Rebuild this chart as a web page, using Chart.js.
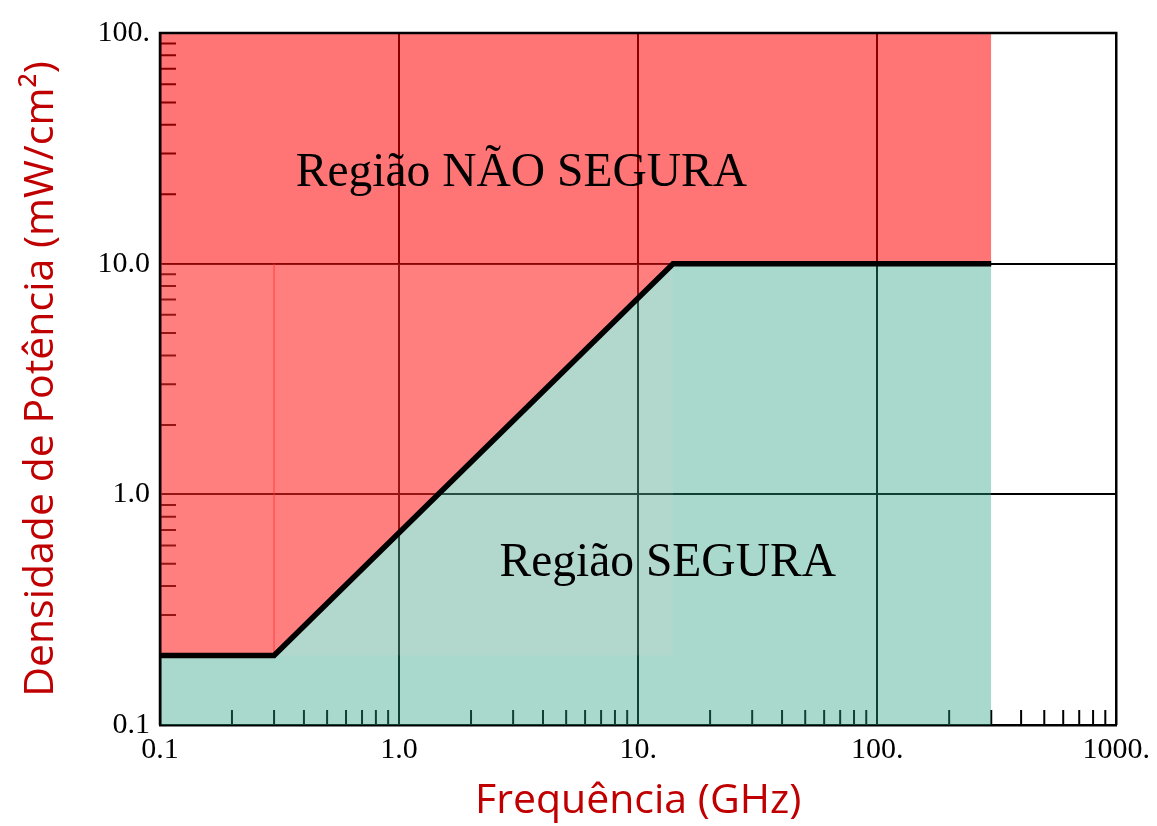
<!DOCTYPE html>
<html>
<head>
<meta charset="utf-8">
<script src="https://cdn.jsdelivr.net/npm/chart.js@4/dist/chart.umd.min.js"></script>
<style>
  body { margin: 0; background: #fff; }
  #wrap { width: 1157px; height: 826px; }
</style>
</head>
<body>
<div id="wrap"><canvas id="grafico"></canvas></div>
<script>
// limite de exposição (GHz, mW/cm²)
const frequencias = [0.1, 0.3, 14, 300];
const densidades = [0.2, 0.2, 10, 10];

// faixa mais clara sobreposta (0.1–14 GHz, 0.2–10 mW/cm²)
const faixaX = [0.1, 14];
const faixaTopo = [10, 10];
const faixaBase = [0.2, 0.2];
// traço fino em 0.3 GHz
const tracoX = [0.3, 0.3];
const tracoY = [0.2, 10];

const xTicks = [0.1, 1, 10, 100, 1000];
const xTickLabels = ["0.1", "1.0", "10.", "100.", "1000."];
const yTicks = [0.1, 1, 10, 100];
const yTickLabels = ["0.1", "1.0", "10.0", "100."];

// ticks menores 2..9 em cada década
const xMinor = [];
[0.1, 1, 10, 100].forEach(d => { for (let k = 2; k <= 9; k++) xMinor.push(d * k); });
const yMinor = [];
[0.1, 1, 10].forEach(d => { for (let k = 2; k <= 9; k++) yMinor.push(d * k); });

const textos = [
  { texto: "Região NÃO SEGURA", x: 3.25, y: 24.5 },
  { texto: "Região SEGURA", x: 13.3, y: 0.50 }
];

const pontos = frequencias.map((f, i) => ({ x: f, y: densidades[i] }));

const vermelho = "#c00000";
const serif = '"Liberation Serif", "Times New Roman", serif';
const sans = '"Open Sans", "Noto Sans", sans-serif';

const ticksMenores = {
  id: "ticksMenores",
  beforeDatasetsDraw(chart) {
    const { ctx, chartArea, scales } = chart;
    ctx.save();
    ctx.strokeStyle = "#000";
    ctx.lineWidth = 2;
    ctx.beginPath();
    xMinor.forEach(v => {
      const px = scales.x.getPixelForValue(v);
      ctx.moveTo(px, chartArea.bottom);
      ctx.lineTo(px, chartArea.bottom - 15);
    });
    yMinor.forEach(v => {
      const py = scales.y.getPixelForValue(v);
      ctx.moveTo(chartArea.left, py);
      ctx.lineTo(chartArea.left + 16, py);
    });
    ctx.stroke();
    ctx.restore();
  },
  afterDatasetsDraw(chart) {
    const { ctx, chartArea, scales } = chart;
    ctx.save();
    // moldura superior / lateral
    ctx.strokeStyle = "#000";
    ctx.lineWidth = 2.5;
    ctx.beginPath();
    ctx.moveTo(chartArea.left, chartArea.bottom);
    ctx.lineTo(chartArea.left, chartArea.top);
    ctx.lineTo(chartArea.right, chartArea.top);
    ctx.lineTo(chartArea.right, chartArea.bottom);
    ctx.stroke();
    // textos das regiões
    ctx.fillStyle = "#000";
    ctx.font = "47.5px " + serif;
    ctx.textAlign = "center";
    ctx.textBaseline = "middle";
    textos.forEach(t => {
      ctx.fillText(t.texto, scales.x.getPixelForValue(t.x), scales.y.getPixelForValue(t.y));
    });
    ctx.restore();
  }
};

new Chart(document.getElementById("grafico"), {
  type: "scatter",
  data: {
    datasets: [
      {
        data: pontos,
        showLine: true,
        borderColor: "#000",
        borderWidth: 5.5,
        pointRadius: 0,
        fill: false
      },
      {
        data: tracoX.map((x, i) => ({ x: x, y: tracoY[i] })),
        showLine: true,
        borderColor: "rgba(255, 50, 50, 0.8)",
        borderWidth: 1,
        pointRadius: 0,
        fill: false
      },
      {
        data: faixaX.map((x, i) => ({ x: x, y: faixaTopo[i] })),
        showLine: true,
        borderWidth: 0,
        pointRadius: 0,
        backgroundColor: "rgba(255, 200, 200, 0.1)",
        fill: "+1"
      },
      {
        data: faixaX.map((x, i) => ({ x: x, y: faixaBase[i] })),
        showLine: true,
        borderWidth: 0,
        pointRadius: 0,
        fill: false
      },
      {
        data: pontos,
        showLine: true,
        borderWidth: 0,
        pointRadius: 0,
        backgroundColor: "rgba(255, 0, 0, 0.54)",
        fill: "end"
      },
      {
        data: pontos,
        showLine: true,
        borderWidth: 0,
        pointRadius: 0,
        backgroundColor: "rgba(40, 160, 130, 0.4)",
        fill: "start"
      }
    ]
  },
  options: {
    responsive: true,
    maintainAspectRatio: false,
    animation: false,
    layout: { padding: { top: 33, right: 39 } },
    plugins: { legend: { display: false }, tooltip: { enabled: false } },
    scales: {
      x: {
        type: "logarithmic",
        min: 0.1,
        max: 1000,
        afterBuildTicks: s => { s.ticks = xTicks.map(v => ({ value: v })); },
        afterFit: s => { s.height = 101; },
        ticks: {
          autoSkip: false,
          maxRotation: 0,
          padding: 7,
          color: "#000",
          font: { family: serif, size: 30 },
          callback: (v, i) => xTickLabels[i]
        },
        grid: { color: "#000", lineWidth: 2, drawTicks: false },
        border: { display: true, color: "#000", width: 2.5 },
        title: {
          display: true,
          text: "Frequência (GHz)",
          color: vermelho,
          font: { family: sans, size: 41 },
          padding: { top: 0, bottom: 0 }
        }
      },
      y: {
        type: "logarithmic",
        min: 0.1,
        max: 100,
        afterBuildTicks: s => { s.ticks = yTicks.map(v => ({ value: v })); },
        afterFit: s => { s.width = 160; },
        ticks: {
          autoSkip: false,
          padding: 10,
          color: "#000",
          font: { family: serif, size: 30 },
          callback: (v, i) => yTickLabels[i]
        },
        grid: { color: "#000", lineWidth: 2, drawTicks: false },
        border: { display: true, color: "#000", width: 2.5 },
        title: {
          display: true,
          text: "Densidade de Potência (mW/cm²)",
          color: vermelho,
          font: { family: sans, size: 41 },
          padding: { top: 17, bottom: 0 }
        }
      }
    }
  },
  plugins: [ticksMenores]
});
</script>
</body>
</html>
